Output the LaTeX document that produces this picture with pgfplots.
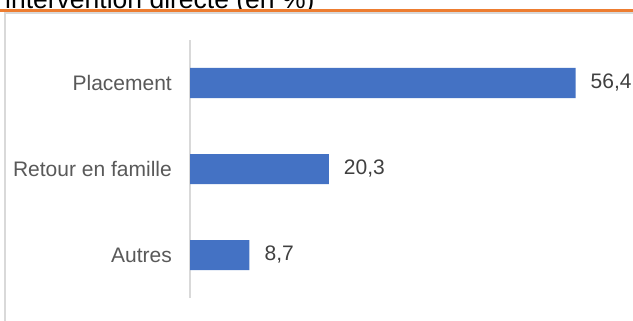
\documentclass[border=0pt]{standalone}
\usepackage{pgfplots}
\pgfplotsset{compat=1.18}
\usepackage{fontspec}
\setmainfont{Liberation Sans}
\definecolor{barblue}{HTML}{4472C4}
\definecolor{orangeline}{HTML}{ED7D31}
\definecolor{lbl}{HTML}{595959}
\definecolor{val}{HTML}{404040}
\definecolor{border}{HTML}{D9D9D9}
\begin{document}
\begin{tikzpicture}[x=1bp,y=1bp]
\path[use as bounding box, clip] (0,0) rectangle (633,320);
\fill[white] (0,0) rectangle (633,320);
% title (cut at top)
\node[anchor=base west, inner sep=0pt, font=\fontsize{26.5bp}{30bp}\selectfont, text=black] at (5,312) {intervention directe (en \%)};
% chart border
\draw[border, line width=2bp] (4.5,-5) -- (4.5,306.5) -- (640,306.5);
\draw[orangeline, line width=2.6bp] (0,309.5) -- (633,309.5);
\begin{axis}[
  at={(190bp,22bp)}, anchor=south west,
  scale only axis,
  width=385.5bp, height=258bp,
  xmin=0, xmax=56.4,
  ymin=-0.5, ymax=2.5,
  xbar, bar width=30bp, bar shift=0pt,
  axis x line=none,
  axis y line*=left,
  y axis line style={border, line width=1.5bp, -},
  ytick={0,1,2},
  yticklabels={Autres,Retour en famille,Placement},
  major tick length=0pt,
  y tick label style={font=\fontsize{21bp}{24bp}\selectfont, text=lbl, inner sep=0pt, xshift=-18bp},
  nodes near coords,
  nodes near coords align={horizontal},
  every node near coord/.append style={font=\fontsize{21bp}{24bp}\selectfont, text=val, anchor=west, inner sep=0pt, xshift=15bp},
  /pgf/number format/.cd, use comma, fixed, precision=1, fixed zerofill, assume math mode=true,
  /pgfplots/.cd,
  clip=false,
]
\addplot[fill=barblue, draw=none] coordinates {(56.4,2) (20.3,1) (8.7,0)};
\end{axis}
\end{tikzpicture}
\end{document}
